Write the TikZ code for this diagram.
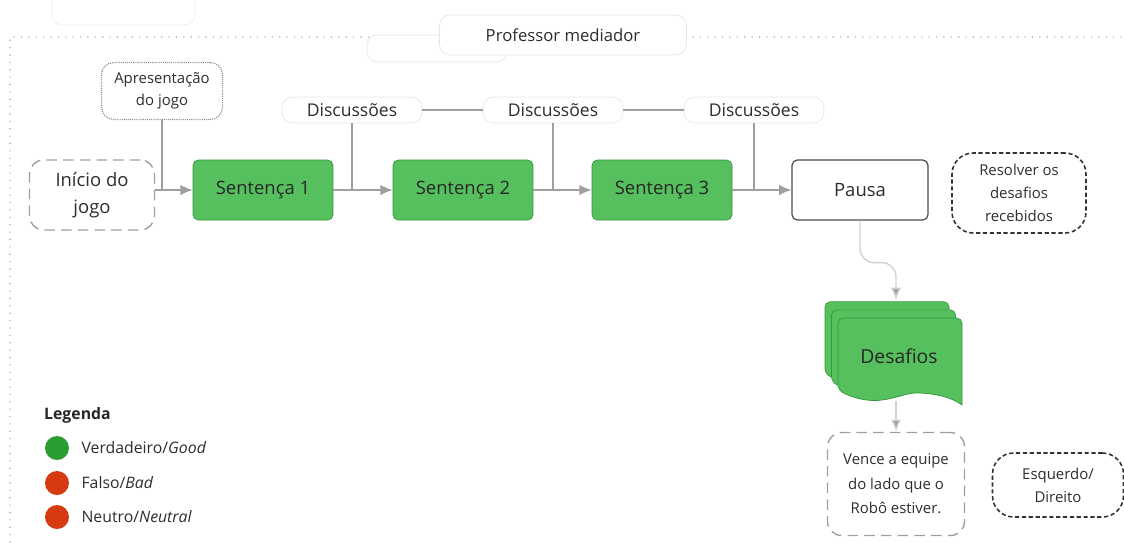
\documentclass[tikz,border=0pt]{standalone}
\usepackage{fontspec}
\setmainfont{Open Sans}
\usetikzlibrary{arrows.meta,positioning}
\definecolor{boxgreen}{RGB}{86,192,94}
\definecolor{boxedge}{RGB}{50,150,58}
\definecolor{txt}{RGB}{45,45,45}
\definecolor{lgreen}{RGB}{44,156,52}
\definecolor{lred}{RGB}{214,58,16}
\tikzset{
  sent/.style={draw=boxedge, fill=boxgreen, rounded corners=3pt, minimum width=2.8cm, minimum height=1.2cm, font=\fontsize{10.5}{12}\selectfont, text=black!85},
  pausebox/.style={draw=black!70, line width=0.7pt, fill=white, rounded corners=3pt, minimum width=2.72cm, minimum height=1.2cm, font=\fontsize{10.5}{12}\selectfont},
  startbox/.style={draw=gray!75, line width=0.8pt, dash pattern=on 6pt off 3.5pt, rounded corners=8pt, minimum width=2.5cm, minimum height=1.4cm, align=center, font=\fontsize{10.5}{15}\selectfont},
  endbox/.style={draw=gray!75, line width=0.8pt, dash pattern=on 6pt off 3.5pt, rounded corners=8pt, minimum width=2.74cm, minimum height=2.06cm, align=center, font=\fontsize{8.5}{14}\selectfont},
  tipbox/.style={draw=black!80, line width=0.9pt, dash pattern=on 2.4pt off 1.5pt, rounded corners=12pt, align=center, font=\fontsize{8.5}{13}\selectfont},
  dotbox/.style={draw=gray!90, line width=0.7pt, dash pattern=on 0.6pt off 0.6pt, rounded corners=7pt, minimum width=2.42cm, minimum height=1.14cm, align=center, font=\fontsize{8.5}{12.5}\selectfont},
  pill/.style={draw=gray!18, fill=white, rounded corners=6pt, minimum width=2.8cm, minimum height=0.52cm, font=\fontsize{10}{12}\selectfont},
  legdot/.style={circle, fill=#1, minimum size=0.48cm, inner sep=0pt},
  link/.style={draw=gray!75, line width=0.8pt},
  flow/.style={link, -{Latex[length=7pt,width=6pt]}},
  flowlight/.style={draw=gray!35, line width=0.8pt, -{Latex[length=7pt,width=6pt,fill=gray!75]}},
}

\begin{document}
\begin{tikzpicture}[x=0.02cm, y=-0.02cm, font=\fontsize{9}{11}\selectfont, text=txt]
  \useasboundingbox (0,0) rectangle (1124,542);

  % frame and the boxes on its top edge
  \draw[gray!65, line width=0.9pt, dash pattern=on 0pt off 4.2pt, line cap=round] (10,542) -- (10,37) -- (1124,37);
  \draw[gray!15, rounded corners=6pt] (52,-10) -- (52,25) -- (195,25) -- (195,-10);
  \draw[gray!20, fill=white, rounded corners=6pt] (367,35) rectangle (507,62);
  \node[draw=gray!20, fill=white, rounded corners=6pt, minimum width=4.94cm, minimum height=0.8cm, font=\fontsize{9.5}{11}\selectfont] (prof) at (563,35) {Professor mediador};

  % main row
  \node[startbox] (inicio) at (92,195) {Início do\\jogo};
  \node[sent] (s1) at (263,190) {Sentença 1};
  \node[sent] (s2) at (463,190) {Sentença 2};
  \node[sent] (s3) at (662,190) {Sentença 3};
  \node[pausebox] (pausa) at (860,190) {Pausa};
  \node[tipbox, minimum width=2.68cm, minimum height=1.6cm] (resolver) at (1019,193) {Resolver os\\desafios\\recebidos};

  \node[dotbox] (apres) at (162,91) {Apresentação\\do jogo};
  \node[pill] (d1) at (352,110) {Discussões};
  \node[pill] (d2) at (553,110) {Discussões};
  \node[pill] (d3) at (754,110) {Discussões};
  \draw[link] (d1) -- (d2);
  \draw[link] (d2) -- (d3);

  \draw[flow] (inicio.east |- s1.west) -- (s1.west);
  \draw[flow] (s1) -- (s2);
  \draw[flow] (s2) -- (s3);
  \draw[flow] (s3) -- (pausa);
  \draw[link] (apres.south) -- (apres.south |- s1.west);
  \draw[link] (d1.south) -- (d1.south |- s1.east);
  \draw[link] (d2.south) -- (d2.south |- s2.east);
  \draw[link] (d3.south) -- (d3.south |- s3.east);

  % desafios: a stack of pages
  \foreach \o in {-13,-6.5,0}
    \draw[boxedge, fill=boxgreen, shift={(838+\o,318+\o*1.25)}]
      (124,87) [rounded corners=3pt] -- (124,0) -- (0,0) -- (0,72) [sharp corners]
      .. controls (15,80) and (30,84) .. (44,82) .. controls (60,80) and (70,74) .. (82,75)
      .. controls (100,76) and (115,80) .. (124,87) -- cycle;
  \node[font=\fontsize{11}{13}\selectfont, text=black!85] (desafios) at (899,356) {Desafios};
  \coordinate (destop) at (896,300);
  \coordinate (desbot) at (896,401);
  \draw[flowlight, rounded corners=8pt] (pausa.south) -- ++(0,42) -| (destop);

  \node[endbox] (vence) at (896,484) {Vence a equipe\\do lado que o\\Robô estiver.};
  \node[tipbox, minimum width=2.62cm, minimum height=1.28cm] (esq) at (1058,485) {Esquerdo/\\Direito};
  \draw[flowlight] (desbot) -- (vence.north);

  % legend
  \node[anchor=west, font=\fontsize{9}{11}\selectfont\bfseries, text=black!85] (leg) at (38,415) {Legenda};
  \node[legdot=lgreen] (c1) at (57,448) {};
  \node[legdot=lred] (c2) at (57,483) {};
  \node[legdot=lred] (c3) at (57,517) {};
  \node[right=0.12cm of c1] (l1) {Verdadeiro/\textit{Good}};
  \node[right=0.12cm of c2] (l2) {Falso/\textit{Bad}};
  \node[right=0.12cm of c3] (l3) {Neutro/\textit{Neutral}};
\end{tikzpicture}
\end{document}
